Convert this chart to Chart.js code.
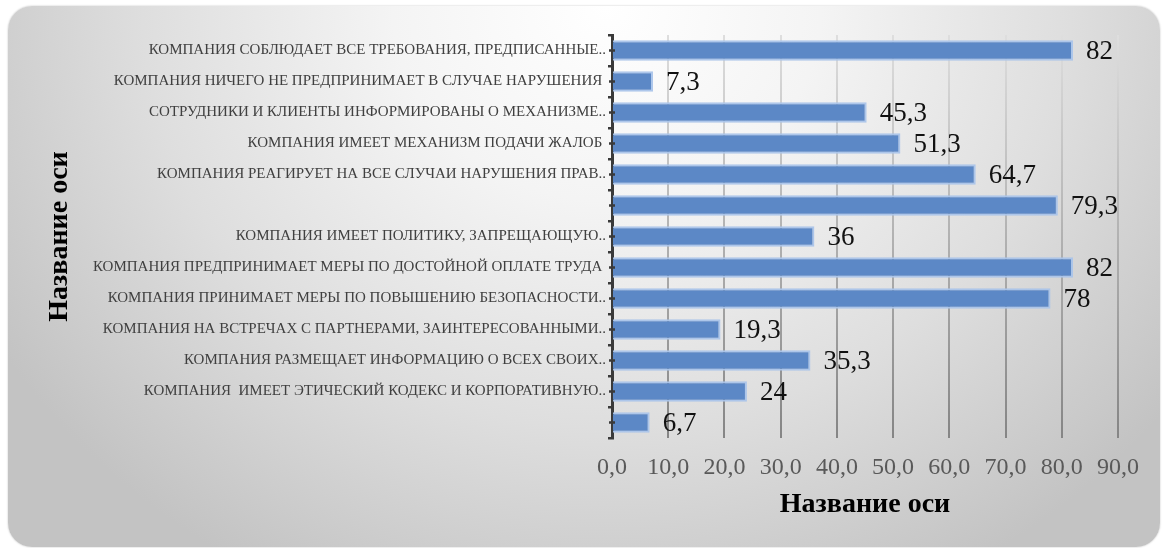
<!DOCTYPE html>
<html lang="ru">
<head>
  <meta charset="UTF-8" />
  <title>Название оси</title>
  <script src="https://cdn.jsdelivr.net/npm/chart.js"></script>
  <style>
    html, body {
      margin: 0;
      padding: 0;
      background: #ffffff;
    }

    .panel {
      position: absolute;
      left: 8px;
      top: 6px;
      width: 1152px;
      height: 541px;
      border-radius: 24px;
      background: radial-gradient(ellipse 62% 120% at 52% 0%, #ffffff 0%, #f4f4f4 30%, #dedede 65%, #c3c3c3 100%);
      box-shadow: 0 0 2px rgba(0, 0, 0, 0.25);
    }

    .chart-wrapper {
      position: absolute;
      left: 0;
      top: 0;
      width: 1163px;
      height: 548px;
    }
  </style>
</head>
<body>

  <div class="panel"></div>
  <div class="chart-wrapper">
    <canvas id="barChart"></canvas>
  </div>

  <script>
    // категории (сверху вниз)
    const categories = [
      'КОМПАНИЯ СОБЛЮДАЕТ ВСЕ ТРЕБОВАНИЯ, ПРЕДПИСАННЫЕ..',
      'КОМПАНИЯ НИЧЕГО НЕ ПРЕДПРИНИМАЕТ В СЛУЧАЕ НАРУШЕНИЯ ',
      'СОТРУДНИКИ И КЛИЕНТЫ ИНФОРМИРОВАНЫ О МЕХАНИЗМЕ..',
      'КОМПАНИЯ ИМЕЕТ МЕХАНИЗМ ПОДАЧИ ЖАЛОБ ',
      'КОМПАНИЯ РЕАГИРУЕТ НА ВСЕ СЛУЧАИ НАРУШЕНИЯ ПРАВ..',
      '',
      'КОМПАНИЯ ИМЕЕТ ПОЛИТИКУ, ЗАПРЕЩАЮЩУЮ..',
      'КОМПАНИЯ ПРЕДПРИНИМАЕТ МЕРЫ ПО ДОСТОЙНОЙ ОПЛАТЕ ТРУДА ',
      'КОМПАНИЯ ПРИНИМАЕТ МЕРЫ ПО ПОВЫШЕНИЮ БЕЗОПАСНОСТИ..',
      'КОМПАНИЯ НА ВСТРЕЧАХ С ПАРТНЕРАМИ, ЗАИНТЕРЕСОВАННЫМИ..',
      'КОМПАНИЯ РАЗМЕЩАЕТ ИНФОРМАЦИЮ О ВСЕХ СВОИХ..',
      'КОМПАНИЯ  ИМЕЕТ ЭТИЧЕСКИЙ КОДЕКС И КОРПОРАТИВНУЮ..',
      ''
    ];

    const values = [82, 7.3, 45.3, 51.3, 64.7, 79.3, 36, 82, 78, 19.3, 35.3, 24, 6.7];

    const xTicks = [0, 10, 20, 30, 40, 50, 60, 70, 80, 90];

    const axisTitle = 'Название оси';

    const fmt = (v) => String(v).replace('.', ',');

    // подписи значений справа от столбцов + точки на оси
    const valueLabels = {
      id: 'valueLabels',
      afterDatasetsDraw(chart) {
        const ctx = chart.ctx;
        const meta = chart.getDatasetMeta(0);
        ctx.save();
        ctx.font = '27px "Liberation Serif", serif';
        ctx.fillStyle = '#111111';
        ctx.textAlign = 'left';
        ctx.textBaseline = 'middle';
        meta.data.forEach((bar, i) => {
          ctx.fillText(fmt(values[i]), bar.x + 13, bar.y + 1);
        });
        ctx.restore();
      },
      afterDraw(chart) {
        const ctx = chart.ctx;
        const yScale = chart.scales.y;
        const x0 = chart.chartArea.left;
        ctx.save();
        ctx.strokeStyle = '#3a3a3a';
        ctx.lineWidth = 2.5;
        categories.forEach((c, i) => {
          const py = yScale.getPixelForTick(i);
          ctx.beginPath();
          ctx.moveTo(x0 - 3, py);
          ctx.lineTo(x0 + 3, py);
          ctx.stroke();
        });
        ctx.restore();
      }
    };

    const chartCtx = document.getElementById('barChart').getContext('2d');

    new Chart(chartCtx, {
      type: 'bar',
      data: {
        labels: categories,
        datasets: [{
          data: values,
          backgroundColor: '#5c88c6',
          borderColor: 'rgba(170, 196, 234, 0.95)',
          borderWidth: 2,
          barPercentage: 0.66,
          categoryPercentage: 1
        }]
      },
      options: {
        indexAxis: 'y',
        responsive: true,
        maintainAspectRatio: false,
        animation: false,
        layout: {
          padding: { top: 35, right: 45, bottom: 0, left: 0 }
        },
        scales: {
          x: {
            min: 0,
            max: 90,
            afterBuildTicks: (scale) => {
              scale.ticks = xTicks.map(v => ({ value: v }));
            },
            afterFit: (scale) => {
              scale.height = 110;
            },
            ticks: {
              padding: 15,
              color: '#595959',
              font: { family: '"Liberation Serif", serif', size: 24 },
              callback: (v) => v.toFixed(1).replace('.', ',')
            },
            grid: {
              drawTicks: false,
              lineWidth: 2,
              color: (context) => {
                const area = context.chart.chartArea;
                if (!area) return '#999999';
                const g = context.chart.ctx.createLinearGradient(0, area.top, 0, area.bottom);
                g.addColorStop(0, '#dedede');
                g.addColorStop(1, '#858585');
                return g;
              }
            },
            border: { display: false },
            title: {
              display: true,
              text: axisTitle,
              color: '#000000',
              font: { family: '"Liberation Serif", serif', size: 28, weight: 'bold' },
              padding: { top: 0, bottom: 26 }
            }
          },
          y: {
            afterFit: (scale) => {
              scale.width = 612;
            },
            ticks: {
              padding: 2,
              color: '#404040',
              autoSkip: false,
              font: { family: '"Liberation Serif", serif', size: 15 }
            },
            grid: {
              offset: true,
              drawOnChartArea: false,
              drawTicks: true,
              tickLength: 4,
              lineWidth: 2.5,
              color: '#3a3a3a'
            },
            border: { display: true, color: '#3a3a3a', width: 3 },
            title: {
              display: true,
              text: axisTitle,
              color: '#000000',
              font: { family: '"Liberation Serif", serif', size: 28, weight: 'bold' },
              padding: { top: 43, bottom: 0 }
            }
          }
        },
        plugins: {
          legend: { display: false },
          tooltip: { enabled: false }
        }
      },
      plugins: [valueLabels]
    });
  </script>
</body>
</html>
